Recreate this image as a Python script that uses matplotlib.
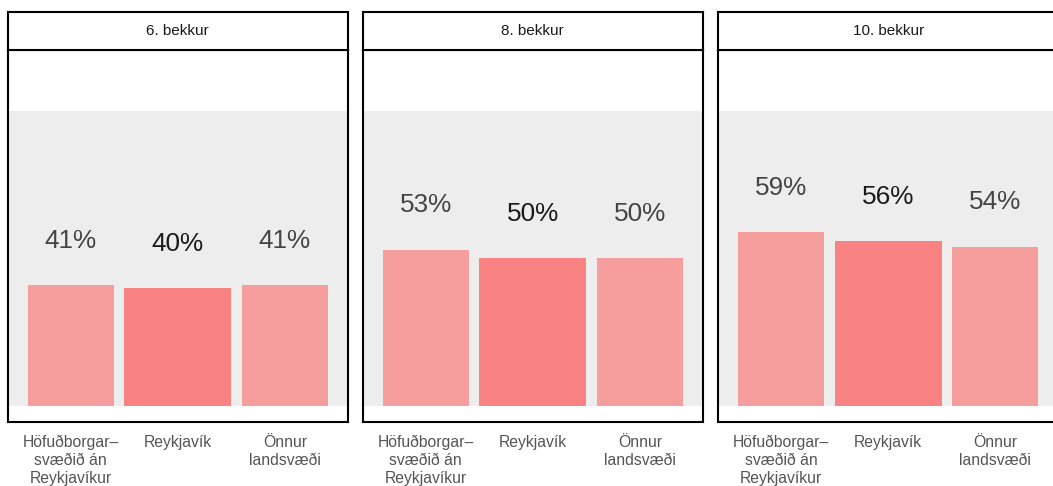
import matplotlib.pyplot as plt

plt.rcParams['font.family'] = ['Liberation Sans', 'DejaVu Sans']

grades = ['6. bekkur', '8. bekkur', '10. bekkur']
regions = ['Höfuðborgar–\nsvæðið án\nReykjavíkur', 'Reykjavík', 'Önnur\nlandsvæði']
values_6 = [41, 40, 41]
values_8 = [53, 50, 50]
values_10 = [59, 56, 54]
all_values = [values_6, values_8, values_10]

bar_colors = ['#F69D9D', '#F98383', '#F69D9D']
bar_widths = [0.8, 1.0, 0.8]
label_colors = ['#444444', '#1a1a1a', '#444444']

W, H = 1053, 486
fig = plt.figure(figsize=(W / 100, H / 100), dpi=100)

panel_left = [7.5, 362.5, 718]
panel_w = 340.5
top, bottom, strip_top = 50, 422, 12

for i, grade in enumerate(grades):
    x0 = panel_left[i]
    ax = fig.add_axes([x0 / W, (H - bottom) / H, panel_w / W, (bottom - top) / H])
    ax.axhspan(0, 100, color='#EDEDED', zorder=0, lw=0)
    xs = range(len(regions))
    ax.bar(xs, all_values[i], width=bar_widths, color=bar_colors, zorder=2)
    for x, v, c in zip(xs, all_values[i], label_colors):
        ax.text(x, v + 15, f'{v}%', ha='center', va='center', fontsize=18.8, color=c)
    ax.set_xlim(-0.59, 2.59)
    ax.set_ylim(-5.5, 120.7)
    ax.set_yticks([])
    ax.set_xticks(list(xs))
    ax.set_xticklabels(regions, fontsize=11.3, color='#555555', linespacing=1.28)
    ax.tick_params(axis='x', length=0, pad=9)
    for s in ax.spines.values():
        s.set_linewidth(1.5)
        s.set_color('black')

    sax = fig.add_axes([x0 / W, (H - top) / H, panel_w / W, (top - strip_top) / H])
    sax.set_xticks([])
    sax.set_yticks([])
    for s in sax.spines.values():
        s.set_linewidth(1.5)
        s.set_color('black')
    sax.text(0.5, 0.5, grade, ha='center', va='center', fontsize=11, color='#1a1a1a',
             transform=sax.transAxes)

fig.savefig('out.png', dpi=100)
